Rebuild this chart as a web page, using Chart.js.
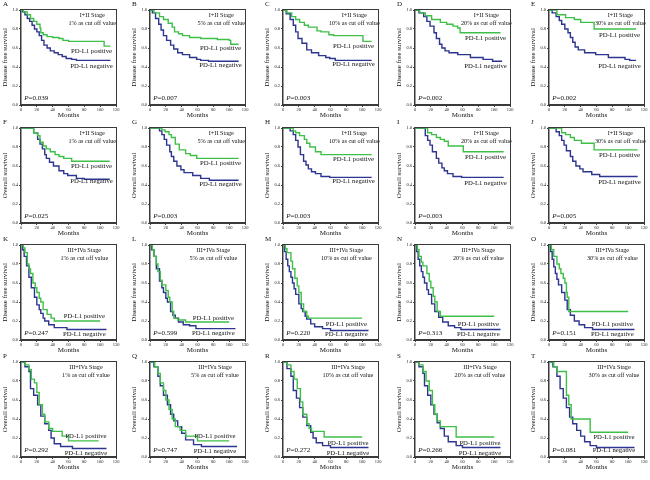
<!DOCTYPE html>
<html>
<head>
<meta charset="utf-8">
<script src="https://cdn.jsdelivr.net/npm/chart.js@4/dist/chart.umd.min.js"></script>
<style>
  body { margin: 0; background: #fff; }
  #wrap { position: relative; width: 650px; height: 480px; overflow: hidden; }
  #wrap canvas { position: absolute; }
  .box { position: absolute; border: 1.5px solid #3a3a3a; box-sizing: border-box; pointer-events: none; }
</style>
</head>
<body>
<div id="wrap"></div>
<script>
// ---- data: [months, survival] steps ----
// I+II stage, disease free survival
const A_pos = [[0,1],[3,0.98],[8,0.95],[12,0.91],[16,0.88],[20,0.85],[24,0.81],[25,0.76],[28,0.74],[33,0.72],[40,0.71],[48,0.7],[53,0.68],[60,0.67],[104,0.67],[105,0.62],[113,0.62]];
const A_neg = [[0,1],[2,0.98],[5,0.95],[8,0.91],[11,0.88],[14,0.84],[17,0.8],[20,0.77],[23,0.73],[26,0.68],[29,0.63],[33,0.6],[37,0.57],[42,0.55],[47,0.53],[52,0.51],[57,0.49],[64,0.48],[70,0.47],[113,0.47]];
const B_pos = [[0,1],[5,0.97],[12,0.93],[17,0.9],[23,0.86],[28,0.82],[31,0.77],[36,0.75],[41,0.73],[50,0.71],[64,0.7],[85,0.69],[100,0.68],[102,0.64],[112,0.64]];
const B_neg = [[0,1],[3,0.97],[7,0.91],[11,0.85],[14,0.79],[17,0.73],[21,0.68],[26,0.63],[30,0.59],[35,0.55],[41,0.53],[50,0.5],[59,0.48],[64,0.47],[74,0.46],[112,0.46]];
const C_pos = [[0,1],[5,0.97],[11,0.93],[16,0.9],[21,0.87],[27,0.84],[32,0.82],[43,0.78],[48,0.77],[58,0.74],[64,0.73],[100,0.73],[101,0.67],[112,0.67]];
const C_neg = [[0,1],[4,0.96],[9,0.9],[13,0.84],[16,0.77],[19,0.7],[24,0.65],[30,0.58],[36,0.55],[45,0.52],[54,0.5],[59,0.49],[66,0.47],[112,0.47]];
const D_pos = [[0,1],[6,0.97],[13,0.94],[21,0.9],[32,0.87],[40,0.85],[48,0.83],[54,0.81],[57,0.76],[108,0.76]];
const D_neg = [[0,1],[5,0.97],[11,0.93],[15,0.88],[19,0.83],[24,0.76],[27,0.7],[31,0.64],[34,0.6],[38,0.57],[43,0.55],[54,0.53],[70,0.5],[86,0.48],[98,0.46],[110,0.46]];
const E_pos = [[0,1],[8,1],[10,0.95],[21,0.92],[32,0.9],[40,0.87],[57,0.8],[110,0.8]];
const E_neg = [[0,1],[4,0.97],[9,0.93],[13,0.89],[16,0.85],[20,0.8],[24,0.76],[27,0.71],[30,0.66],[33,0.61],[37,0.58],[45,0.55],[59,0.53],[75,0.5],[96,0.48],[102,0.47],[110,0.47]];
// I+II stage, overall survival
const F_pos = [[0,1],[11,1],[16,0.95],[21,0.92],[24,0.85],[28,0.81],[32,0.78],[37,0.75],[43,0.72],[48,0.7],[54,0.68],[64,0.65],[112,0.65]];
const F_neg = [[0,1],[11,1],[16,0.95],[21,0.88],[24,0.83],[27,0.78],[30,0.72],[32,0.68],[36,0.64],[41,0.6],[48,0.55],[54,0.52],[59,0.5],[70,0.47],[80,0.46],[112,0.46]];
const G_pos = [[0,1],[11,1],[15,0.98],[19,0.96],[24,0.93],[27,0.9],[32,0.83],[37,0.77],[45,0.73],[51,0.71],[59,0.68],[112,0.68]];
const G_neg = [[0,1],[9,1],[12,0.97],[15,0.93],[18,0.88],[21,0.82],[25,0.75],[27,0.7],[30,0.65],[34,0.6],[39,0.56],[43,0.53],[54,0.5],[64,0.47],[75,0.45],[112,0.45]];
const H_pos = [[0,1],[9,1],[13,0.97],[16,0.95],[21,0.92],[27,0.88],[30,0.84],[34,0.8],[41,0.75],[48,0.72],[112,0.72]];
const H_neg = [[0,1],[5,1],[9,0.97],[13,0.93],[16,0.87],[19,0.8],[22,0.72],[26,0.65],[29,0.61],[32,0.57],[36,0.54],[41,0.52],[48,0.49],[59,0.48],[112,0.48]];
const I_pos = [[0,1],[11,1],[16,0.95],[21,0.93],[27,0.9],[32,0.88],[37,0.86],[42,0.81],[61,0.75],[112,0.75]];
const I_neg = [[0,1],[9,1],[13,0.92],[16,0.87],[19,0.82],[22,0.75],[27,0.68],[30,0.63],[34,0.58],[37,0.55],[41,0.52],[48,0.49],[59,0.48],[112,0.48]];
const J_pos = [[0,1],[13,1],[16,0.95],[21,0.93],[27,0.9],[32,0.87],[41,0.84],[57,0.77],[112,0.77]];
const J_neg = [[0,1],[5,1],[9,0.96],[13,0.92],[16,0.87],[19,0.82],[22,0.76],[27,0.7],[30,0.65],[34,0.6],[39,0.57],[43,0.54],[54,0.51],[64,0.49],[112,0.49]];
// III+IVa stage, disease free survival
const K_pos = [[0,1],[3,0.97],[5,0.92],[8,0.8],[10,0.75],[12,0.7],[15,0.6],[18,0.55],[20,0.5],[23,0.44],[25,0.4],[28,0.32],[33,0.27],[38,0.23],[42,0.2],[100,0.2]];
const K_neg = [[0,1],[2,0.95],[4,0.88],[7,0.78],[10,0.66],[13,0.55],[17,0.45],[20,0.37],[23,0.32],[25,0.28],[28,0.23],[30,0.2],[35,0.16],[42,0.13],[58,0.11],[108,0.11]];
const L_pos = [[0,1],[3,0.95],[5,0.88],[8,0.8],[10,0.72],[13,0.63],[15,0.58],[20,0.52],[23,0.45],[25,0.4],[28,0.3],[30,0.23],[35,0.21],[45,0.19],[100,0.19]];
const L_neg = [[0,1],[2,0.95],[5,0.88],[8,0.75],[12,0.62],[15,0.55],[17,0.5],[20,0.44],[22,0.4],[26,0.3],[29,0.26],[32,0.23],[36,0.19],[42,0.16],[50,0.15],[58,0.12],[108,0.12]];
const M_pos = [[0,1],[3,0.96],[5,0.92],[10,0.83],[12,0.75],[15,0.65],[18,0.57],[20,0.5],[23,0.38],[26,0.3],[30,0.25],[32,0.23],[100,0.23]];
const M_neg = [[0,1],[2,0.93],[4,0.85],[6,0.78],[8,0.72],[10,0.66],[12,0.6],[14,0.54],[16,0.48],[20,0.38],[23,0.33],[25,0.3],[28,0.25],[30,0.22],[35,0.17],[40,0.14],[50,0.12],[60,0.1],[108,0.1]];
const N_pos = [[0,1],[3,0.95],[5,0.88],[8,0.82],[10,0.78],[15,0.7],[18,0.62],[20,0.55],[23,0.46],[25,0.4],[28,0.3],[32,0.25],[100,0.25]];
const N_neg = [[0,1],[2,0.93],[4,0.85],[6,0.78],[8,0.72],[10,0.66],[12,0.6],[15,0.53],[17,0.48],[21,0.38],[25,0.3],[30,0.24],[35,0.19],[42,0.15],[50,0.13],[58,0.11],[108,0.11]];
const O_pos = [[0,1],[3,0.95],[6,0.88],[10,0.8],[13,0.75],[15,0.7],[18,0.65],[20,0.6],[22,0.5],[23,0.45],[25,0.3],[100,0.3]];
const O_neg = [[0,1],[2,0.93],[4,0.85],[6,0.77],[8,0.7],[10,0.64],[12,0.58],[16,0.5],[20,0.42],[23,0.32],[27,0.26],[32,0.2],[38,0.16],[45,0.13],[55,0.11],[108,0.11]];
// III+IVa stage, overall survival
const P_pos = [[0,1],[5,0.97],[10,0.92],[13,0.82],[17,0.78],[20,0.68],[23,0.55],[27,0.45],[30,0.37],[35,0.3],[40,0.27],[52,0.22],[60,0.17],[98,0.17]];
const P_neg = [[0,1],[5,0.95],[10,0.9],[12,0.72],[16,0.65],[21,0.55],[25,0.43],[30,0.35],[35,0.28],[38,0.2],[42,0.14],[50,0.11],[65,0.09],[108,0.09]];
const Q_pos = [[0,1],[6,0.95],[10,0.88],[13,0.78],[17,0.7],[20,0.6],[24,0.5],[28,0.4],[32,0.32],[38,0.28],[45,0.22],[60,0.17],[100,0.17]];
const Q_neg = [[0,1],[5,0.95],[10,0.85],[13,0.75],[17,0.65],[22,0.55],[26,0.45],[30,0.38],[35,0.32],[40,0.25],[45,0.18],[55,0.13],[65,0.11],[110,0.11]];
const R_pos = [[0,1],[5,0.97],[10,0.9],[14,0.82],[18,0.72],[22,0.58],[25,0.45],[30,0.35],[33,0.3],[36,0.27],[52,0.21],[100,0.21]];
const R_neg = [[0,1],[5,0.93],[10,0.85],[13,0.7],[17,0.62],[21,0.52],[25,0.42],[30,0.33],[35,0.26],[38,0.2],[42,0.15],[50,0.12],[60,0.1],[108,0.1]];
const S_pos = [[0,1],[5,0.97],[10,0.9],[14,0.8],[18,0.7],[22,0.55],[25,0.45],[28,0.38],[32,0.32],[52,0.21],[100,0.21]];
const S_neg = [[0,1],[5,0.95],[10,0.88],[12,0.75],[16,0.65],[20,0.55],[24,0.45],[28,0.36],[32,0.3],[37,0.22],[42,0.16],[52,0.12],[60,0.1],[108,0.1]];
const T_pos = [[0,1],[6,0.95],[10,0.9],[20,0.9],[22,0.65],[25,0.55],[28,0.4],[52,0.26],[100,0.26]];
const T_neg = [[0,1],[5,0.95],[10,0.85],[14,0.72],[18,0.62],[22,0.52],[26,0.42],[30,0.35],[35,0.28],[40,0.22],[45,0.16],[52,0.12],[60,0.1],[108,0.1]];

const letters = ['A','B','C','D','E','F','G','H','I','J','K','L','M','N','O','P','Q','R','S','T'];
const cutoffs = ['1%','5%','10%','20%','30%'];
const stages = ['I+II Stage','I+II Stage','III+IVa Stage','III+IVa Stage'];
const endpoints = ['Disease free survival','Overall survival','Disease free survival','Overall survival'];
const pValues = ['0.039','0.007','0.003','0.002','0.002','0.025','0.003','0.003','0.003','0.005',
                 '0.247','0.599','0.220','0.313','0.151','0.292','0.747','0.272','0.266','0.081'];
const xTicks = [0,20,40,60,80,100,120];
const yTicks = [0,0.2,0.4,0.6,0.8,1.0];
const posCurves = [A_pos,B_pos,C_pos,D_pos,E_pos,F_pos,G_pos,H_pos,I_pos,J_pos,K_pos,L_pos,M_pos,N_pos,O_pos,P_pos,Q_pos,R_pos,S_pos,T_pos];
const negCurves = [A_neg,B_neg,C_neg,D_neg,E_neg,F_neg,G_neg,H_neg,I_neg,J_neg,K_neg,L_neg,M_neg,N_neg,O_neg,P_neg,Q_neg,R_neg,S_neg,T_neg];

// ---- layout ----
const posLabelY = [0.57,0.60,0.62,0.70,0.73,0.60,0.63,0.67,0.69,0.71,0.25,0.23,0.17,0.17,0.17,0.22,0.22,0.14,0.14,0.21];
const negLabelY = [0.41,0.42,0.43,0.41,0.41,0.44,0.41,0.44,0.42,0.43,0.06,0.07,0.06,0.06,0.06,0.04,0.06,0.04,0.04,0.07];
const textCenter = [90,90,80,82];   // months, per row
const labelCenter = [89,89,80,82];
const boxLeft = [21,150,283,415,549];
const boxTop = [10,128,245,362];
const boxW = 95, boxH = 95;
const GREEN = '#3fbf48', BLUE = '#2d3590';
const SERIF = '"Liberation Serif", "DejaVu Serif", serif';

const toXY = arr => arr.map(p => ({ x: p[0], y: p[1] }));

// 文字和边框
const panelText = {
  id: 'panelText',
  afterDraw(chart) {
    const o = chart.options.plugins.panelText;
    const ctx = chart.ctx, a = chart.chartArea, x = chart.scales.x, y = chart.scales.y;
    ctx.save();
    ctx.fillStyle = '#111';
    ctx.textBaseline = 'middle';
    ctx.font = '7px ' + SERIF;
    ctx.textAlign = 'left';
    ctx.fillText(o.letter, a.left - 18, a.top - 6);
    ctx.font = '6.2px ' + SERIF;
    ctx.textAlign = 'center';
    const cx = x.getPixelForValue(o.tc);
    ctx.fillText(o.stage, cx, y.getPixelForValue(0.94));
    ctx.fillText(o.cutoff + ' as cut off value', cx, y.getPixelForValue(0.855));
    ctx.font = '6.7px ' + SERIF;
    const lx = x.getPixelForValue(o.lc);
    ctx.fillText('PD-L1 positive', lx, y.getPixelForValue(o.posY));
    ctx.fillText('PD-L1 negative', lx, y.getPixelForValue(o.negY));
    ctx.textAlign = 'left';
    const px = x.getPixelForValue(4), py = y.getPixelForValue(0.07);
    ctx.font = 'italic 7px ' + SERIF;
    ctx.fillText('P', px, py);
    const w = ctx.measureText('P').width;
    ctx.font = '7px ' + SERIF;
    ctx.fillText('=' + o.p, px + w, py);
    ctx.restore();
  }
};

const wrap = document.getElementById('wrap');
letters.forEach((letter, i) => {
  const row = Math.floor(i / 5), col = i % 5;
  const canvas = document.createElement('canvas');
  canvas.width = 20 + boxW + 4;
  canvas.height = 10 + boxH + 14 + 1;
  canvas.style.left = (boxLeft[col] - 20) + 'px';
  canvas.style.top = (boxTop[row] - 10) + 'px';
  wrap.appendChild(canvas);

  const chart = new Chart(canvas.getContext('2d'), {
    type: 'line',
    data: {
      datasets: [
        { data: toXY(posCurves[i]), borderColor: GREEN, borderWidth: 1.4, stepped: true, pointRadius: 0, fill: false },
        { data: toXY(negCurves[i]), borderColor: BLUE, borderWidth: 1.4, stepped: true, pointRadius: 0, fill: false }
      ]
    },
    options: {
      responsive: false,
      animation: false,
      layout: { padding: { top: 10, right: 4, bottom: 1, left: 0 } },
      plugins: {
        legend: { display: false },
        tooltip: { enabled: false },
        panelText: { letter, stage: stages[row], cutoff: cutoffs[col], p: pValues[i], posY: posLabelY[i], negY: negLabelY[i], tc: textCenter[row], lc: labelCenter[row] }
      },
      scales: {
        x: {
          type: 'linear', min: 0, max: 120,
          afterBuildTicks: s => { s.ticks = xTicks.map(v => ({ value: v })); },
          afterFit: s => { s.height = 14; },
          grid: { display: true, drawOnChartArea: false, drawTicks: true, tickLength: 2, color: '#444' },
          border: { display: true, color: '#3a3a3a', width: 1.5 },
          ticks: { font: { size: 4.5, family: SERIF }, color: '#222', padding: 0, maxRotation: 0, callback: v => v },
          title: { display: true, text: 'Months', font: { size: 7, family: SERIF }, color: '#111', padding: { top: 0, bottom: 0 } }
        },
        y: {
          min: 0, max: 1,
          afterBuildTicks: s => { s.ticks = yTicks.map(v => ({ value: v })); },
          afterFit: s => { s.width = 20; },
          grid: { display: true, drawOnChartArea: false, drawTicks: true, tickLength: 2, color: '#444' },
          border: { display: true, color: '#3a3a3a', width: 1.5 },
          ticks: { font: { size: 4.5, family: SERIF }, color: '#222', padding: 1, callback: v => v.toFixed(1) },
          title: { display: true, text: endpoints[row], font: { size: 7, family: SERIF }, color: '#111', padding: { top: 0, bottom: 2 } }
        }
      }
    },
    plugins: [panelText]
  });

  // 外框
  const a = chart.chartArea;
  const box = document.createElement('div');
  box.className = 'box';
  box.style.left = (boxLeft[col] - 20 + a.left - 0.75) + 'px';
  box.style.top = (boxTop[row] - 10 + a.top - 0.75) + 'px';
  box.style.width = (a.right - a.left + 1.5) + 'px';
  box.style.height = (a.bottom - a.top + 1.5) + 'px';
  wrap.appendChild(box);
});
</script>
</body>
</html>
